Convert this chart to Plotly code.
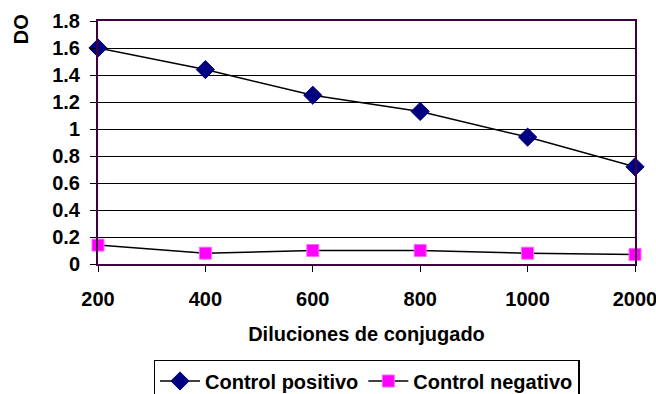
import plotly.graph_objects as go

categories = ["200", "400", "600", "800", "1000", "2000"]
positivo = [1.60, 1.44, 1.25, 1.13, 0.94, 0.72]
negativo = [0.14, 0.08, 0.10, 0.10, 0.08, 0.07]
y_ticks = [0, 0.2, 0.4, 0.6, 0.8, 1, 1.2, 1.4, 1.6, 1.8]

FONT = "Liberation Sans, Arial, sans-serif"
FS = 20

def f(size=FS):
    return dict(family=FONT, size=size, color="black", weight="bold")

fig = go.Figure()
fig.add_trace(go.Scatter(
    x=categories, y=positivo, name="Control positivo", mode="lines+markers",
    line=dict(color="black", width=1.5),
    marker=dict(symbol="diamond", size=14, color="#000080", line=dict(color="#000080", width=1)),
    cliponaxis=False,
))
fig.add_trace(go.Scatter(
    x=categories, y=negativo, name="Control negativo", mode="lines+markers",
    line=dict(color="black", width=1.5),
    marker=dict(symbol="square", size=12, color="#ff00ff", line=dict(color="#ff66ff", width=1)),
    cliponaxis=False,
))

fig.update_layout(
    width=656, height=394,
    margin=dict(l=98, r=21, t=21, b=130, autoexpand=False),
    paper_bgcolor="white", plot_bgcolor="white",
    font=f(),
    showlegend=True,
    legend=dict(
        orientation="h", x=0.5, xanchor="center", y=-0.395, yanchor="top",
        bordercolor="black", borderwidth=1.5, itemwidth=40,
        font=f(), tracegroupgap=0,
    ),
    xaxis=dict(
        type="category", range=[0, 5], automargin=False,
        showgrid=False, showline=True, linecolor="#400040", linewidth=2, mirror=True,
        ticks="outside", ticklen=6, tickcolor="black", tickwidth=1,
        tickfont=f(), ticklabelstandoff=10,
        title=dict(text="Diluciones de conjugado", standoff=18, font=f()),
    ),
    yaxis=dict(
        range=[0, 1.8], tickvals=y_ticks, ticktext=[f"{v:g}" for v in y_ticks],
        automargin=False,
        showgrid=True, gridcolor="black", gridwidth=1,
        showline=True, linecolor="#400040", linewidth=2, mirror=True,
        ticks="outside", ticklen=6, tickcolor="black", tickwidth=1,
        tickfont=f(), ticklabelstandoff=6,
        zeroline=False,
    ),
    annotations=[dict(
        text="DO", xref="paper", yref="paper", x=-0.143, y=1.037, xanchor="center", yanchor="top",
        textangle=-90, showarrow=False, font=f(),
    )],
)

fig.write_html("out.html")
